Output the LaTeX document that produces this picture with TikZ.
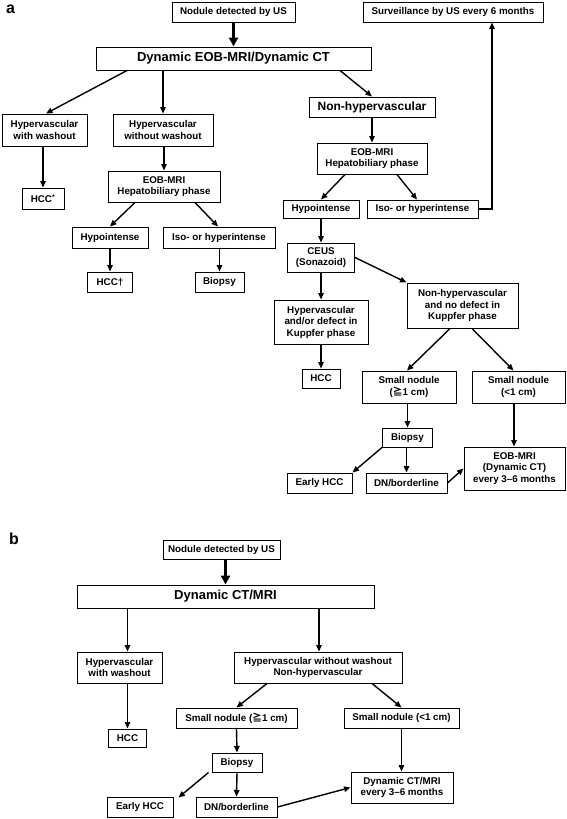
\documentclass[tikz,border=0pt]{standalone}
\usepackage{fontspec}
\setmainfont{Liberation Sans}
\newfontfamily\cjkfont{Noto Sans CJK JP}
\usetikzlibrary{arrows.meta}
\newcommand{\geqsym}{{\cjkfont ≧}}
\begin{document}
\begin{tikzpicture}[x=1pt,y=-1pt,
  box/.style={draw, line width=1pt, inner sep=0pt, align=center,
    font=\fontsize{9.8}{11.5}\selectfont\bfseries},
  bigbox/.style={box, font=\fontsize{13}{15}\selectfont\bfseries},
  midbox/.style={box, font=\fontsize{12}{14}\selectfont\bfseries},
  arr/.style={line width=1.4pt, -{Triangle[length=6.5pt,width=5.5pt]}},
  bigarr/.style={line width=3.5pt, -{Triangle[length=9pt,width=9pt]}},
  panel/.style={font=\fontsize{16}{16}\selectfont\bfseries, inner sep=0pt}]
\useasboundingbox (0,0) rectangle (567,819);
\fill[white] (0,0) rectangle (567,819);
% ---------------- panel a ----------------
\node[panel] (pa) at (10.5,9.5) {a};
\node[box, minimum width=123pt, minimum height=20pt] (a_nod) at (233.5,12) {Nodule detected by US};
\node[box, minimum width=180pt, minimum height=20pt] (a_surv) at (453,12) {Surveillance by US every 6 months};
\node[bigbox, minimum width=275pt, minimum height=23pt] (a_dyn) at (233.5,58.5) {Dynamic EOB-MRI/Dynamic CT};
\node[midbox, minimum width=126pt, minimum height=20pt] (a_non) at (372,107) {Non-hypervascular};
\node[box, minimum width=85pt, minimum height=32pt] (a_hww) at (44.5,130) {Hypervascular\\with washout};
\node[box, minimum width=100pt, minimum height=32pt] (a_hwo) at (163,130) {Hypervascular\\without washout};
\node[box, minimum width=42pt, minimum height=21pt] (a_hcc1) at (43,198.5) {HCC\textsuperscript{*}};
\node[box, minimum width=112pt, minimum height=31pt] (a_eob1) at (164,186.5) {EOB-MRI\\Hepatobiliary phase};
\node[box, minimum width=76pt, minimum height=21pt] (a_hypo1) at (110,237.5) {Hypointense};
\node[box, minimum width=112pt, minimum height=21pt] (a_iso1) at (219,237.5) {Iso- or hyperintense};
\node[box, minimum width=45pt, minimum height=20pt] (a_hcc2) at (110,282) {HCC†};
\node[box, minimum width=49pt, minimum height=20pt] (a_bio1) at (219.5,282) {Biopsy};
\node[box, minimum width=110pt, minimum height=31pt] (a_eob2) at (372,158.5) {EOB-MRI\\Hepatobiliary phase};
\node[box, minimum width=76pt, minimum height=18pt] (a_hypo2) at (321,209) {Hypointense};
\node[box, minimum width=111pt, minimum height=18pt] (a_iso2) at (422.5,209) {Iso- or hyperintense};
\node[box, minimum width=67pt, minimum height=29pt] (a_ceus) at (321,257.5) {CEUS\\(Sonazoid)};
\node[box, minimum width=94pt, minimum height=44pt] (a_hyp3) at (321,322) {Hypervascular\\and/or defect in\\Kuppfer phase};
\node[box, minimum width=111pt, minimum height=45pt] (a_nonh2) at (462.5,305.5) {Non-hypervascular\\and no defect in\\Kuppfer phase};
\node[box, minimum width=38pt, minimum height=19pt] (a_hcc3) at (321,378.5) {HCC};
\node[box, minimum width=94pt, minimum height=32pt] (a_sn1) at (409,387) {Small nodule\\(\geqsym1 cm)};
\node[box, minimum width=93pt, minimum height=32pt] (a_sn2) at (518.5,387) {Small nodule\\(<1 cm)};
\node[box, minimum width=50pt, minimum height=19pt] (a_bio2) at (407.5,437.5) {Biopsy};
\node[box, minimum width=65pt, minimum height=20pt] (a_ehcc) at (319.5,483) {Early HCC};
\node[box, minimum width=81pt, minimum height=20pt] (a_dn) at (406.5,483) {DN/borderline};
\node[box, minimum width=101pt, minimum height=43pt] (a_eob3) at (514.5,468.5) {EOB-MRI\\(Dynamic CT)\\every 3–6 months};
% connectors a
\draw[bigarr] (a_nod.south) -- (a_dyn.north);
\draw[arr] ([xshift=-106.5pt]a_dyn.south) -- ([xshift=1.5pt]a_hww.north);
\draw[arr] (a_hwo.north |- a_dyn.south) -- (a_hwo.north);
\draw[arr] ([xshift=106.5pt]a_dyn.south) -- (a_non.north);
\draw[arr] (a_hcc1.north |- a_hww.south) -- (a_hcc1.north);
\draw[arr] (a_eob1.north |- a_hwo.south) -- (a_eob1.north);
\draw[arr] ([xshift=-29pt]a_eob1.south) -- (a_hypo1.north);
\draw[arr] ([xshift=31pt]a_eob1.south) -- ([xshift=-1pt]a_iso1.north);
\draw[arr] (a_hcc2.north |- a_hypo1.south) -- (a_hcc2.north);
\draw[arr] (a_bio1.north |- a_iso1.south) -- (a_bio1.north);
\draw[arr] (a_non.south) -- (a_eob2.north);
\draw[arr] ([xshift=-27pt]a_eob2.south) -- (a_hypo2.north);
\draw[arr] ([xshift=25pt]a_eob2.south) -- ([xshift=-5.5pt]a_iso2.north);
\draw[arr] (a_iso2.east) -| ([xshift=39pt]a_surv.south);
\draw[arr] (a_hypo2.south) -- (a_ceus.north);
\draw[arr] (a_ceus.south) -- (a_hyp3.north);
\draw[arr] (a_ceus.east) -- (a_nonh2.north west);
\draw[arr] (a_hyp3.south) -- (a_hcc3.north);
\draw[arr] ([xshift=-12.5pt]a_nonh2.south) -- ([xshift=-2pt]a_sn1.north);
\draw[arr] ([xshift=9.5pt]a_nonh2.south) -- ([xshift=-5pt]a_sn2.north);
\draw[arr] (a_bio2.north |- a_sn1.south) -- (a_bio2.north);
\draw[arr] ([xshift=-4.5pt]a_sn2.south) -- ([xshift=-4.5pt]a_sn2.south |- a_eob3.north);
\draw[arr] (a_bio2.south west) -- (a_ehcc.north east);
\draw[arr] (a_dn.north |- a_bio2.south) -- (a_dn.north);
\draw[arr] (a_dn.east) -- (a_eob3.west);
% ---------------- panel b ----------------
\node[panel] (pb) at (14,538.5) {b};
\node[box, minimum width=117pt, minimum height=19pt] (b_nod) at (221.5,549.5) {Nodule detected by US};
\node[bigbox, minimum width=297pt, minimum height=23pt] (b_dyn) at (225.5,596.5) {Dynamic CT/MRI};
\node[box, minimum width=85pt, minimum height=31pt] (b_hww) at (119.5,667.5) {Hypervascular\\with washout};
\node[box, minimum width=38pt, minimum height=18pt] (b_hcc) at (127.5,738) {HCC};
\node[box, minimum width=168pt, minimum height=31pt] (b_hwo) at (318,667.5) {Hypervascular without washout\\Non-hypervascular};
\node[box, minimum width=121pt, minimum height=20pt] (b_sn1) at (236.5,718) {Small nodule (\geqsym1 cm)};
\node[box, minimum width=115pt, minimum height=20pt] (b_sn2) at (401.5,718) {Small nodule (<1 cm)};
\node[box, minimum width=50pt, minimum height=19pt] (b_bio) at (237,762.5) {Biopsy};
\node[box, minimum width=66pt, minimum height=20pt] (b_ehcc) at (140,807) {Early HCC};
\node[box, minimum width=81pt, minimum height=20pt] (b_dn) at (236.5,807) {DN/borderline};
\node[box, minimum width=102pt, minimum height=31pt] (b_dyn2) at (402,787.5) {Dynamic CT/MRI\\every 3–6 months};
% connectors b
\draw[bigarr] (b_dyn.north |- b_nod.south) -- (b_dyn.north);
\draw[arr] (b_hcc.north |- b_dyn.south) -- (b_hcc.north |- b_hww.north);
\draw[arr] (b_hcc.north |- b_hww.south) -- (b_hcc.north);
\draw[arr] ([xshift=1pt]b_hwo.north |- b_dyn.south) -- ([xshift=1pt]b_hwo.north);
\draw[arr] ([xshift=-51pt]b_hwo.south) -- (b_sn1.north);
\draw[arr] ([xshift=54pt]b_hwo.south) -- (b_sn2.north);
\draw[arr] (b_sn1.south) -- (b_bio.north);
\draw[arr] ([xshift=-3pt]b_bio.south west) -- ([xshift=5pt,yshift=-1pt]b_ehcc.north east);
\draw[arr] (b_bio.south) -- (b_dn.north);
\draw[arr] (b_sn2.south) -- (b_sn2.south |- b_dyn2.north);
\draw[arr] (b_dn.east) -- (b_dyn2.west);
\end{tikzpicture}
\end{document}
